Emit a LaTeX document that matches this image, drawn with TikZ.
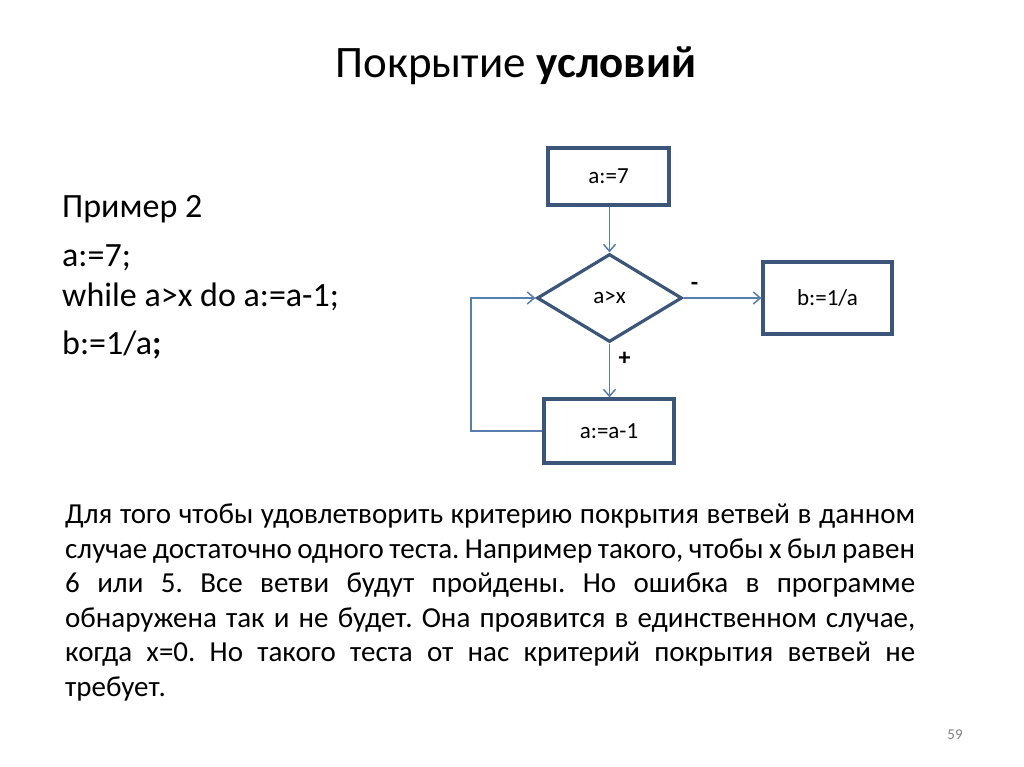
\documentclass[tikz,border=0pt]{standalone}
\usepackage{fontspec}
\setmainfont{Carlito}
\usepackage{tikz}
\usetikzlibrary{positioning, arrows.meta, shapes.geometric}

\definecolor{boxblue}{RGB}{60,86,122}
\definecolor{linkblue}{RGB}{88,126,176}

\tikzset{
    block/.style={draw=boxblue, line width=3.2pt, minimum width=121pt, minimum height=57pt, inner sep=0pt, font=\fontsize{23}{27}\selectfont},
    decision/.style={diamond, draw=boxblue, line width=3.2pt, minimum width=145pt, minimum height=88pt, inner sep=0pt, font=\fontsize{23}{27}\selectfont},
    link/.style={draw=linkblue, line width=1.5pt, -{Straight Barb[length=7pt,width=12pt,line width=1.5pt]}},
    code/.style={anchor=base west, inner sep=0pt, font=\fontsize{34}{40}\selectfont}
}

\begin{document}
\begin{tikzpicture}[x=1pt, y=-1pt]
    \useasboundingbox (0,0) rectangle (1024,767);

    \node (title) at (516,66) {\fontsize{45}{54}\selectfont Покрытие \textbf{условий}};

    % program text
    \node[code] (ex) at (62,218) {Пример 2};
    \node[code] (l1) at (62,266) {a:=7;};
    \node[code] (l2) at (62,306) {while a>x do a:=a-1;};
    \node[code] (l3) at (62,354) {b:=1/a\textbf{;}};

    % flow chart
    \node[block] (init) at (608.5,176.5) {a:=7};
    \node[decision] (cond) at (609.5,298) {a>x};
    \node[block, minimum width=129pt, minimum height=72pt] (fin) at (827.5,298) {b:=1/a};
    \node[block, minimum width=130pt, minimum height=64pt] (dec) at (609,431) {a:=a-1};
    \coordinate (loop) at (471,431);

    \draw[link] (init.south -| cond.north) -- (cond.north);
    \draw[link] (cond.east) -- (fin.west) node[pos=0.14, above, yshift=3pt, font=\fontsize{24}{28}\selectfont\bfseries] {-};
    \draw[link] (cond.south) -- (dec.north -| cond.south) node[pos=0.28, right, xshift=5pt, font=\fontsize{24}{28}\selectfont\bfseries] {+};
    \draw[link] (dec.west) -- (loop) |- (cond.west);

    \node[anchor=north west, inner sep=0pt, text width=850pt, align=justify, font=\fontsize{29}{34.5}\selectfont\frenchspacing] (note) at (65,504)
        {Для того чтобы удовлетворить критерию покрытия ветвей в данном\linebreak
         случае достаточно одного теста. Например такого, чтобы x был равен\linebreak
         6 или 5. Все ветви будут пройдены. Но ошибка в программе\linebreak
         обнаружена так и не будет. Она проявится в единственном случае,\linebreak
         когда x=0. Но такого теста от нас критерий покрытия ветвей не\linebreak
         требует.};

    \node[text=gray, font=\fontsize{15}{18}\selectfont] (page) at (955,735) {59};
\end{tikzpicture}
\end{document}
